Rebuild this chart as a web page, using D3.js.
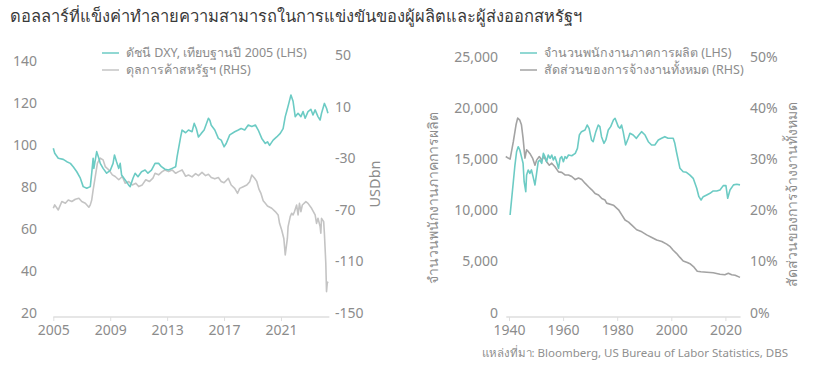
<!DOCTYPE html>
<html>
<head>
<meta charset="utf-8">
<script src="https://cdn.jsdelivr.net/npm/d3@7"></script>
<style>
  html, body { margin: 0; padding: 0; background: #ffffff; }
  svg { display: block; font-family: "Noto Sans", "Open Sans", sans-serif; }
</style>
</head>
<body>
<svg id="chart" width="822" height="381"></svg>
<script>
// ---------- DATA ----------
const titleText = "ดอลลาร์ที่แข็งค่าทำลายความสามารถในการแข่งขันของผู้ผลิตและผู้ส่งออกสหรัฐฯ";
const sourceText = "แหล่งที่มา: Bloomberg, US Bureau of Labor Statistics, DBS";

const leftLegend = ["ดัชนี DXY, เทียบฐานปี 2005 (LHS)", "ดุลการค้าสหรัฐฯ (RHS)"];
const rightLegend = ["จำนวนพนักงานภาคการผลิต (LHS)", "สัดส่วนของการจ้างงานทั้งหมด (RHS)"];
const leftRightTitle = "USDbn";
const rightLeftTitle = "จำนวนพนักงานภาคการผลิต";
const rightRightTitle = "สัดส่วนของการจ้างงานทั้งหมด";

const leftXTicks = [2005, 2009, 2013, 2017, 2021];
const leftYTicks = [20, 40, 60, 80, 100, 120, 140];
const leftY2Ticks = [-150, -110, -70, -30, 10, 50];
const rightXTicks = [1940, 1960, 1980, 2000, 2020];
const rightYTicks = [0, 5000, 10000, 15000, 20000, 25000];
const rightY2Ticks = [0, 10, 20, 30, 40, 50];

const dxyYears = [2005.0,2005.1,2005.35,2005.7,2005.95,2006.2,2006.4,2006.65,2006.9,2007.1,2007.35,2007.6,2007.7,2007.8,2007.85,2008.05,2008.2,2008.3,2008.5,2008.75,2009.0,2009.2,2009.3,2009.45,2009.6,2009.7,2009.8,2010.05,2010.3,2010.4,2010.6,2010.75,2010.95,2011.2,2011.45,2011.65,2011.9,2012.15,2012.4,2012.6,2012.85,2013.1,2013.35,2013.6,2013.7,2013.95,2014.05,2014.3,2014.5,2014.75,2014.9,2015.05,2015.2,2015.4,2015.6,2015.9,2016.0,2016.1,2016.35,2016.6,2016.8,2017.0,2017.15,2017.4,2017.75,2018.0,2018.2,2018.45,2018.7,2018.95,2019.2,2019.4,2019.65,2019.9,2020.05,2020.2,2020.45,2020.7,2020.95,2021.15,2021.3,2021.4,2021.55,2021.7,2021.85,2022.0,2022.2,2022.4,2022.55,2022.7,2022.9,2023.1,2023.25,2023.4,2023.6,2023.75,2023.85,2024.05,2024.2,2024.3];
const dxyValues = [98.6,96.2,93.8,93.3,92.2,91.4,89.8,87.4,84.3,80.3,79.5,80.3,86.7,93.8,89,97,93.8,91.4,89,86.7,88,91.4,95.4,92,89,91.4,85.8,83.5,81,80.3,84.3,86.7,85,87.4,88.2,86.7,88.2,91.4,91.4,89.8,88.6,88.2,89,89.8,94.6,104,107.3,106,107.3,106.5,110.5,108,104,105.7,107.3,112.9,112,109.6,107.3,103.3,102.5,99.3,100.9,105,106.5,107.3,108,107.3,109.7,109,109.7,107.3,103.3,100.9,101.7,100,102.5,104,105.7,108,113.7,116.1,120,124,121,113.7,115.3,113.7,116.1,112.9,116.1,117.2,114.5,116.9,113.7,112.1,115.3,120,117.7,115.3];

const tradeYears = [2005.0,2005.1,2005.35,2005.6,2005.85,2006.05,2006.3,2006.55,2006.8,2007.0,2007.25,2007.5,2007.6,2007.7,2007.8,2007.95,2008.1,2008.3,2008.5,2008.65,2008.9,2009.15,2009.35,2009.6,2009.85,2010.05,2010.3,2010.55,2010.8,2011.0,2011.25,2011.5,2011.75,2012.0,2012.15,2012.4,2012.65,2012.85,2013.1,2013.35,2013.6,2013.8,2014.05,2014.3,2014.5,2014.75,2015.0,2015.2,2015.45,2015.7,2015.9,2016.1,2016.35,2016.6,2016.8,2017.0,2017.3,2017.5,2017.75,2017.95,2018.1,2018.35,2018.6,2018.8,2018.95,2019.15,2019.3,2019.45,2019.6,2019.75,2019.9,2020.05,2020.35,2020.6,2020.8,2020.9,2021.05,2021.2,2021.3,2021.45,2021.5,2021.65,2021.75,2021.85,2021.95,2022.1,2022.2,2022.3,2022.4,2022.5,2022.75,2022.9,2023.15,2023.4,2023.5,2023.6,2023.75,2023.8,2023.85,2024.0,2024.05,2024.15,2024.2,2024.25,2024.3];
const tradeValues = [-68.8,-66.2,-70.1,-63.6,-64.9,-62.4,-63.6,-61.8,-61,-63.6,-64.9,-68,-66.2,-62.4,-54.6,-44.3,-33.9,-30,-31.3,-36.5,-39,-42.9,-44.2,-46.7,-44.2,-49.4,-48.1,-50.7,-49.4,-52,-50.7,-46.7,-48.1,-45.5,-41.7,-42.9,-40.4,-39.1,-40.4,-39.1,-41.7,-40.4,-39.1,-44,-43,-44.5,-42,-43.5,-41,-43.5,-42.5,-45,-46,-45,-48,-49,-45.6,-50.8,-53.4,-57.2,-53.4,-52.1,-50.8,-48.2,-43,-45.6,-48,-54,-57.5,-63,-65,-67,-68.8,-71.4,-74,-80.5,-85.7,-92.2,-105,-92.2,-83,-75.3,-72.7,-74,-71.4,-66.3,-74,-65,-71.4,-66.3,-63.7,-65,-68.8,-74,-80.5,-76.6,-83,-88.1,-76.6,-79.2,-88.1,-111.4,-133.4,-127,-125.7];

const mfgYears = [1940.4,1941.0,1941.6,1942.2,1942.8,1943.4,1944.0,1944.6,1945.2,1945.6,1946.2,1946.5,1947.1,1947.7,1948.3,1948.9,1949.6,1950.2,1950.8,1951.4,1952.1,1952.7,1953.3,1953.9,1954.5,1955.2,1955.8,1956.4,1957.0,1957.6,1958.3,1958.9,1959.5,1960.1,1960.7,1961.3,1962.0,1963.2,1964.5,1965.3,1966.0,1966.8,1968.1,1968.9,1969.6,1970.5,1971.1,1972.1,1973.0,1973.6,1974.2,1975.1,1975.8,1976.7,1977.6,1978.6,1979.2,1980.4,1981.0,1981.6,1982.2,1983.1,1984.1,1984.7,1985.9,1987.1,1988.0,1989.0,1990.3,1991.5,1992.7,1993.9,1995.2,1996.4,1997.6,1998.8,2000.7,2001.3,2001.9,2003.2,2004.4,2005.6,2006.9,2008.1,2009.4,2010.2,2011.0,2011.8,2013.1,2014.3,2015.5,2016.8,2018.0,2019.2,2020.2,2020.85,2021.7,2023.0,2024.2,2025.4];
const mfgValues = [9540,11170,12790,14420,15720,16210,15890,15240,14590,12790,11820,13440,13940,13600,13940,13290,12470,13600,14750,14910,14590,15560,15240,14750,15400,15070,15400,14910,15240,14750,14100,15070,15240,14750,15240,15070,15400,15330,15560,16050,17350,17680,17840,18330,18010,16870,16700,17680,18330,18170,17190,16540,16870,17840,18170,18820,18990,18170,18010,18330,17680,16380,17030,17520,17350,17030,17350,17680,17350,16700,16380,16380,16870,17030,17190,17030,17030,16540,15720,14100,13770,13710,13440,13120,12150,11330,11010,11330,11500,11660,11890,11890,11990,12410,12410,11170,11990,12480,12540,12480];

const shareYears = [1938.8,1939.7,1940.4,1941.6,1942.6,1943.2,1944.0,1944.6,1945.2,1945.9,1946.5,1947.1,1947.7,1948.7,1949.6,1950.2,1951.2,1952.1,1952.9,1953.9,1954.9,1955.8,1957.0,1958.3,1959.5,1960.7,1962.0,1963.2,1964.5,1965.7,1966.9,1968.1,1969.4,1970.6,1971.8,1973.1,1974.3,1975.5,1976.1,1978.6,1980.5,1981.7,1982.9,1984.2,1985.4,1987.2,1989.1,1990.9,1992.8,1994.6,1996.5,1998.3,1999.6,2000.7,2001.9,2003.2,2004.4,2005.9,2007.1,2008.4,2009.6,2010.9,2013.1,2015.5,2018.0,2019.8,2021.1,2022.3,2023.6,2025.4];
const shareValues = [30.5,30.2,30.0,33.4,36.7,38.0,37.6,36.7,34.1,30.2,31.8,31.5,31.1,30.2,28.8,29.8,30.5,29.8,30.5,29.5,28.8,29.2,28.5,27.5,27.4,26.9,26.9,26.6,26.0,26.3,26.0,25.3,24.6,24.0,23.3,23.0,22.3,22.0,21.4,21.0,20.1,19.1,18.1,17.7,17.1,16.2,15.8,15.2,14.7,14.2,13.9,13.4,12.9,12.2,11.6,10.8,10.1,9.8,9.5,8.9,8.1,8.0,7.9,7.8,7.5,7.4,7.7,7.4,7.3,6.9];

// ---------- STYLE ----------
const TEAL = "#6ccbc4";
const GRAY_L = "#c4c4c4";
const GRAY_R = "#a3a3a3";
const TXT = "#8c8c8c";
const AXIS = "#dedede";

const svg = d3.select("#chart");

svg.append("text").attr("x", 10).attr("y", 22)
  .attr("font-size", 16.5).attr("fill", "#3a3a3a").text(titleText);

svg.append("text").attr("x", 788).attr("y", 357).attr("text-anchor", "end")
  .attr("font-size", 11.5).attr("fill", "#8f8f8f").text(sourceText);

function styleAxis(g, size) {
  g.select(".domain").remove();
  g.selectAll("text").attr("fill", TXT).attr("font-size", size || 14)
    .attr("font-family", "'Noto Sans', 'Open Sans', sans-serif");
  g.selectAll("line").attr("stroke", AXIS);
}

function legend(x, y, color, label) {
  svg.append("line").attr("x1", x).attr("x2", x + 17).attr("y1", y).attr("y2", y)
    .attr("stroke", color).attr("stroke-width", 1.5);
  svg.append("text").attr("x", x + 24).attr("y", y).attr("dy", "0.35em")
    .attr("font-size", 12.5).attr("fill", TXT).text(label);
}

function bottomAxis(x, y, ticks) {
  const [a, b] = x.range();
  svg.append("line").attr("x1", a).attr("x2", b).attr("y1", y).attr("y2", y)
    .attr("stroke", AXIS).attr("stroke-width", 1.5);
  const g = svg.append("g").attr("transform", `translate(0,${y})`)
    .call(d3.axisBottom(x).tickValues(ticks).tickFormat(d3.format("d")).tickSize(4).tickPadding(4));
  styleAxis(g, 14);
}

const plain = d => String(d);

// ---------- LEFT CHART ----------
const xL = d3.scaleLinear().domain([2005, 2024.4]).range([53.3, 53.3 + 19.4 * 14.23]);
const yL = d3.scaleLinear().domain([20, 140]).range([313, 61.5]);
const yL2 = d3.scaleLinear().domain([-150, 50]).range([313, 55]);

bottomAxis(xL, 317, leftXTicks);

styleAxis(svg.append("g").attr("transform", "translate(37,0)")
  .call(d3.axisLeft(yL).tickValues(leftYTicks).tickFormat(plain).tickSize(0).tickPadding(0)));
styleAxis(svg.append("g").attr("transform", "translate(335,0)")
  .call(d3.axisRight(yL2).tickValues(leftY2Ticks).tickFormat(plain).tickSize(0).tickPadding(0)));

svg.append("text").attr("transform", "translate(380,184) rotate(-90)")
  .attr("text-anchor", "middle").attr("font-size", 14.5).attr("fill", TXT).text(leftRightTitle);

svg.append("path").datum(d3.zip(tradeYears, tradeValues))
  .attr("fill", "none").attr("stroke", GRAY_L).attr("stroke-width", 1.6).attr("stroke-linejoin", "round")
  .attr("d", d3.line().x(d => xL(d[0])).y(d => yL2(d[1])));
svg.append("path").datum(d3.zip(dxyYears, dxyValues))
  .attr("fill", "none").attr("stroke", TEAL).attr("stroke-width", 1.6).attr("stroke-linejoin", "round")
  .attr("d", d3.line().x(d => xL(d[0])).y(d => yL(d[1])));

legend(102, 53, TEAL, leftLegend[0]);
legend(102, 70, GRAY_L, leftLegend[1]);

// ---------- RIGHT CHART ----------
const xR = d3.scaleLinear().domain([1939, 2025.6]).range([509 - 2.705, 509 + 85.6 * 2.705]);
const yR = d3.scaleLinear().domain([0, 25000]).range([312.7, 56.7]);
const yR2 = d3.scaleLinear().domain([0, 50]).range([312.7, 56.7]);

bottomAxis(xR, 317, rightXTicks);

styleAxis(svg.append("g").attr("transform", "translate(498,0)")
  .call(d3.axisLeft(yR).tickValues(rightYTicks).tickFormat(d3.format(",")).tickSize(0).tickPadding(0)));
styleAxis(svg.append("g").attr("transform", "translate(750,0)")
  .call(d3.axisRight(yR2).tickValues(rightY2Ticks).tickFormat(d => d + "%").tickSize(0).tickPadding(0)));

svg.append("text").attr("transform", "translate(438,198) rotate(-90)")
  .attr("text-anchor", "middle").attr("font-size", 14).attr("fill", TXT).text(rightLeftTitle);
svg.append("text").attr("transform", "translate(797,194) rotate(-90)")
  .attr("text-anchor", "middle").attr("font-size", 14).attr("fill", TXT).text(rightRightTitle);

svg.append("path").datum(d3.zip(shareYears, shareValues))
  .attr("fill", "none").attr("stroke", GRAY_R).attr("stroke-width", 1.6).attr("stroke-linejoin", "round")
  .attr("d", d3.line().x(d => xR(d[0])).y(d => yR2(d[1])));
svg.append("path").datum(d3.zip(mfgYears, mfgValues))
  .attr("fill", "none").attr("stroke", TEAL).attr("stroke-width", 1.6).attr("stroke-linejoin", "round")
  .attr("d", d3.line().x(d => xR(d[0])).y(d => yR(d[1])));

legend(520, 53, TEAL, rightLegend[0]);
legend(520, 70, GRAY_R, rightLegend[1]);
</script>
</body>
</html>
